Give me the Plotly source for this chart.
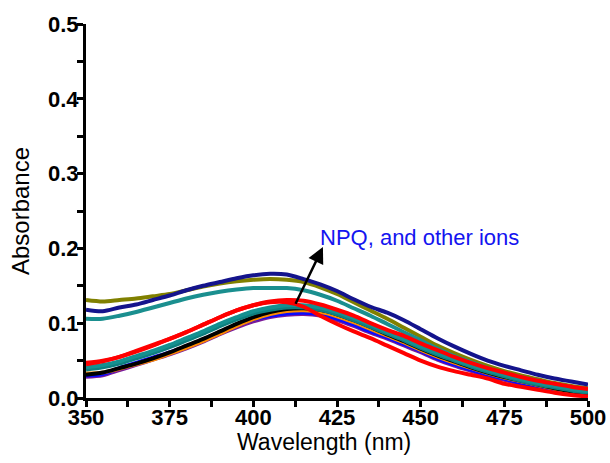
import plotly.graph_objects as go

wavelength = [350, 355, 360, 365, 370, 375, 380, 385, 390, 395, 400, 405, 410, 415, 420,
              425, 430, 435, 440, 445, 450, 455, 460, 465, 470, 475, 480, 485, 490, 495, 500]

navy = [0.118, 0.116, 0.121, 0.125, 0.131, 0.137, 0.144, 0.150, 0.155, 0.160, 0.164, 0.166, 0.165, 0.159, 0.152,
        0.143, 0.132, 0.122, 0.114, 0.104, 0.092, 0.080, 0.069, 0.059, 0.050, 0.043, 0.037, 0.031, 0.026, 0.022, 0.018]
olive = [0.131, 0.129, 0.131, 0.133, 0.136, 0.139, 0.144, 0.149, 0.153, 0.156, 0.158, 0.159, 0.158, 0.155, 0.148,
         0.139, 0.128, 0.117, 0.106, 0.094, 0.082, 0.070, 0.060, 0.051, 0.043, 0.036, 0.030, 0.025, 0.020, 0.016, 0.013]
teal_upper = [0.106, 0.106, 0.110, 0.115, 0.121, 0.127, 0.133, 0.138, 0.142, 0.145, 0.147, 0.147, 0.147, 0.144, 0.138,
              0.130, 0.120, 0.110, 0.099, 0.088, 0.077, 0.066, 0.056, 0.048, 0.040, 0.033, 0.028, 0.023, 0.018, 0.014, 0.011]
teal_a = [0.041, 0.044, 0.049, 0.056, 0.063, 0.071, 0.080, 0.089, 0.099, 0.108, 0.116, 0.121, 0.124, 0.124, 0.121,
          0.115, 0.107, 0.098, 0.088, 0.079, 0.069, 0.060, 0.052, 0.044, 0.037, 0.031, 0.025, 0.020, 0.016, 0.012, 0.009]
teal_b = [0.038, 0.041, 0.046, 0.053, 0.060, 0.068, 0.077, 0.086, 0.096, 0.105, 0.113, 0.118, 0.121, 0.121, 0.118,
          0.112, 0.104, 0.095, 0.086, 0.077, 0.067, 0.058, 0.050, 0.042, 0.035, 0.029, 0.023, 0.018, 0.014, 0.010, 0.007]
red_fast = [0.045, 0.049, 0.055, 0.062, 0.070, 0.079, 0.088, 0.098, 0.108, 0.117, 0.124, 0.128, 0.128, 0.122, 0.110,
            0.099, 0.089, 0.080, 0.070, 0.060, 0.050, 0.042, 0.036, 0.031, 0.026, 0.019, 0.015, 0.011, 0.007, 0.004, 0.002]
black = [0.031, 0.034, 0.040, 0.046, 0.053, 0.061, 0.070, 0.079, 0.089, 0.099, 0.108, 0.115, 0.119, 0.120, 0.118,
         0.112, 0.104, 0.095, 0.085, 0.076, 0.066, 0.057, 0.049, 0.041, 0.034, 0.028, 0.023, 0.018, 0.013, 0.009, 0.006]
orange = [0.033, 0.034, 0.039, 0.045, 0.051, 0.059, 0.067, 0.076, 0.086, 0.096, 0.105, 0.112, 0.116, 0.117, 0.115,
          0.109, 0.101, 0.092, 0.083, 0.074, 0.064, 0.055, 0.047, 0.040, 0.033, 0.027, 0.022, 0.017, 0.012, 0.008, 0.005]
blue = [0.030, 0.032, 0.040, 0.047, 0.054, 0.061, 0.069, 0.078, 0.088, 0.097, 0.105, 0.110, 0.113, 0.114, 0.112,
        0.106, 0.098, 0.089, 0.081, 0.072, 0.063, 0.053, 0.045, 0.038, 0.031, 0.026, 0.020, 0.015, 0.010, 0.007, 0.004]
purple = [0.028, 0.030, 0.037, 0.044, 0.051, 0.058, 0.066, 0.075, 0.085, 0.094, 0.102, 0.108, 0.111, 0.112, 0.110,
          0.104, 0.096, 0.087, 0.079, 0.070, 0.061, 0.051, 0.043, 0.036, 0.029, 0.024, 0.018, 0.013, 0.009, 0.006, 0.003]
red_bundle = [0.047, 0.050, 0.055, 0.063, 0.071, 0.079, 0.088, 0.098, 0.108, 0.117, 0.124, 0.129, 0.131, 0.130, 0.125,
              0.118, 0.110, 0.100, 0.091, 0.083, 0.073, 0.064, 0.055, 0.047, 0.040, 0.034, 0.028, 0.023, 0.019, 0.015, 0.012]

series = [
    ("olive", olive, "#808000", 4),
    ("navy", navy, "#14148c", 4),
    ("teal_upper", teal_upper, "#1a8f8f", 4),
    ("purple", purple, "#7a1a9a", 3.5),
    ("blue", blue, "#0a0aff", 4),
    ("orange", orange, "#ff8c00", 3.5),
    ("black", black, "#000000", 4),
    ("teal_b", teal_b, "#0e7f7f", 4),
    ("teal_a", teal_a, "#159090", 4),
    ("red_fast", red_fast, "#ff0000", 4),
    ("red_bundle", red_bundle, "#ff0000", 4),
]

fig = go.Figure()
for name, vals, color, w in series:
    fig.add_trace(go.Scatter(x=wavelength, y=vals, mode="lines", name=name,
                             line=dict(color=color, width=w, shape="spline", smoothing=0.8),
                             showlegend=False))

font_family = "Liberation Sans, Arial, sans-serif"

fig.add_annotation(x=420.8, y=0.202, ax=412.4, ay=0.124, xref="x", yref="y", axref="x", ayref="y",
                   text="", showarrow=True, arrowhead=2, arrowsize=1.3, arrowwidth=2.5, arrowcolor="black")
fig.add_annotation(x=419.2, y=0.215, xref="x", yref="y", text="NPQ, and other ions", showarrow=False,
                   xanchor="left", yanchor="middle",
                   font=dict(family=font_family, size=22, color="#1414f0"))
# x-axis title (slightly left of centre, as in the original)
fig.add_annotation(x=0.474, y=-0.118, xref="paper", yref="paper", text="Wavelength (nm)", showarrow=False,
                   xanchor="center", yanchor="middle", font=dict(family=font_family, size=23, color="black"))

fig.update_layout(
    width=610, height=463,
    margin=dict(l=86, r=22, t=24, b=65),
    paper_bgcolor="white", plot_bgcolor="white",
    font=dict(family=font_family, color="black"),
)
fig.update_xaxes(range=[350, 500], dtick=25, tick0=350, showgrid=False, zeroline=False, automargin=False,
                 showline=True, linecolor="black", linewidth=3,
                 ticks="outside", ticklen=6, tickwidth=2.5, tickcolor="black", ticklabelstandoff=-8,
                 minor=dict(dtick=12.5, ticks="outside", ticklen=6, tickwidth=2.5, tickcolor="black", showgrid=False),
                 tickfont=dict(size=22, family="Liberation Sans, Arial", weight="bold"))
fig.update_yaxes(range=[0, 0.5], dtick=0.1, tick0=0, tickformat=".1f", showgrid=False, zeroline=False, automargin=False,
                 showline=True, linecolor="black", linewidth=3,
                 ticks="outside", ticklen=6, tickwidth=2.5, tickcolor="black", ticklabelstandoff=-6,
                 minor=dict(dtick=0.05, ticks="outside", ticklen=6, tickwidth=2.5, tickcolor="black", showgrid=False),
                 tickfont=dict(size=22, family="Liberation Sans, Arial", weight="bold"),
                 title=dict(text="Absorbance", font=dict(size=24), standoff=12))

fig.write_html("out.html", config={"displayModeBar": False},
               post_script="document.body.style.margin='0';document.body.style.overflow='hidden';")
